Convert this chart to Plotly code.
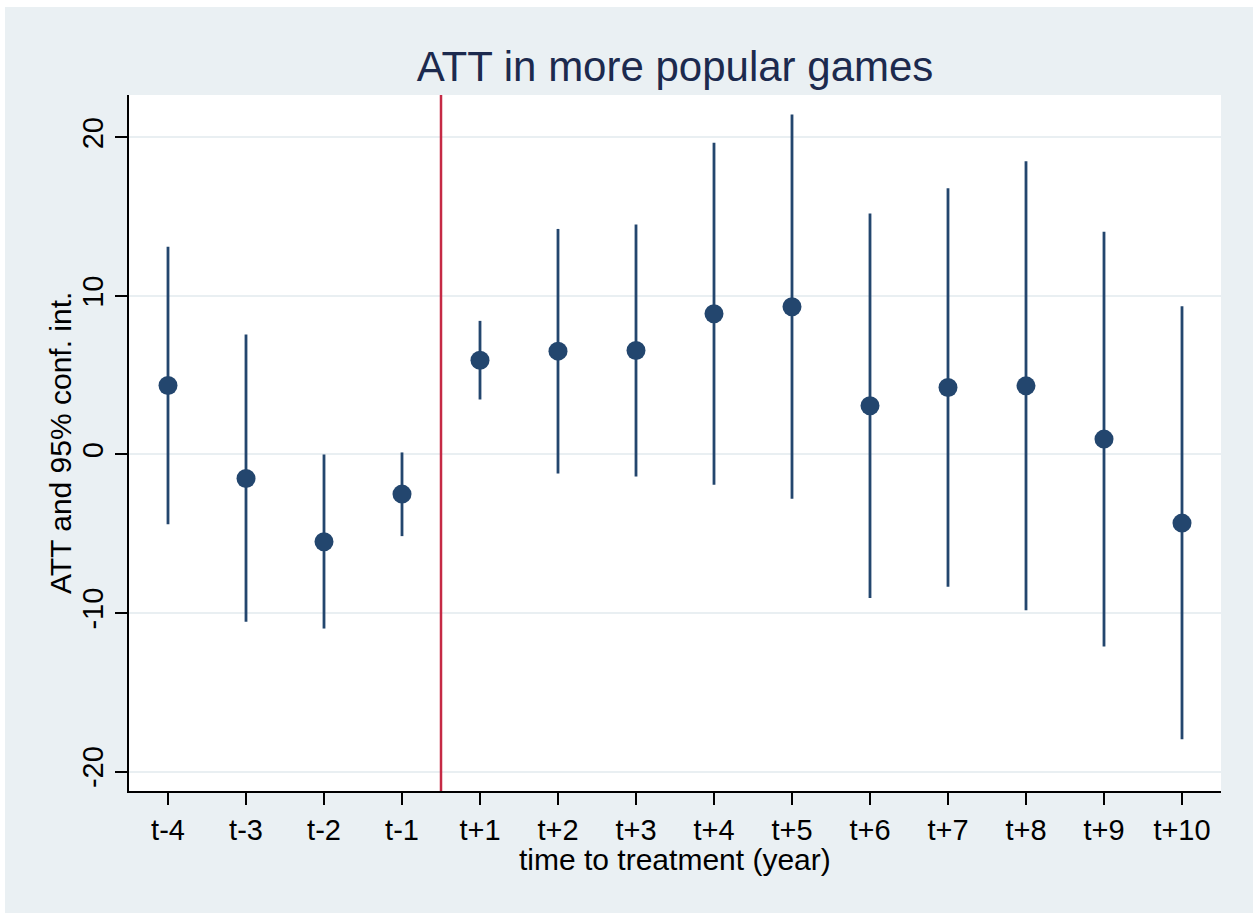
import plotly.graph_objects as go

# Event-study estimates: ATT by year relative to treatment, with 95% CI
periods = ["t-4", "t-3", "t-2", "t-1", "t+1", "t+2", "t+3",
           "t+4", "t+5", "t+6", "t+7", "t+8", "t+9", "t+10"]
att = [4.35, -1.51, -5.51, -2.50, 5.95, 6.52, 6.56,
       8.88, 9.32, 3.07, 4.23, 4.33, 0.97, -4.33]
ci_low = [-4.40, -10.56, -10.98, -5.15, 3.47, -1.20, -1.39,
          -1.91, -2.80, -9.05, -8.35, -9.82, -12.11, -17.97]
ci_high = [13.10, 7.57, 0.00, 0.13, 8.43, 14.23, 14.51,
           19.67, 21.45, 15.20, 16.80, 18.50, 14.05, 9.36]
y_ticks = [-20, -10, 0, 10, 20]
treatment_break = 3.5  # between t-1 and t+1

W, H = 1253, 913
L, R, T, B = 129, 32, 95, 122
pw, ph = W - L - R, H - T - B

NAVY = "#23466e"
BG = "#eaf0f3"
GRID = "#e9eff2"
FONT = "Liberation Sans, Arial, Helvetica, sans-serif"

fig = go.Figure()
fig.add_trace(go.Scatter(
    x=periods,
    y=att,
    mode="markers",
    marker=dict(size=19, color=NAVY),
    error_y=dict(
        type="data",
        symmetric=False,
        array=[h - a for h, a in zip(ci_high, att)],
        arrayminus=[a - l for a, l in zip(att, ci_low)],
        color=NAVY,
        thickness=2.8,
        width=0,
    ),
    showlegend=False,
))

# treatment onset marker
fig.add_shape(type="line", xref="x", yref="paper",
              x0=treatment_break, x1=treatment_break, y0=0, y1=1,
              line=dict(color="#c52a45", width=2.5), layer="above")

# thin white frame along the top and left edges of the page
fig.add_shape(type="rect", xref="paper", yref="paper",
              x0=-L / pw, x1=-L / pw + 5 / pw,
              y0=-B / ph, y1=(H - B) / ph + 0.02,
              fillcolor="white", line_width=0, layer="above")
fig.add_shape(type="rect", xref="paper", yref="paper",
              x0=-L / pw, x1=(W - L) / pw,
              y0=(H - B - 7) / ph, y1=(H - B) / ph + 0.02,
              fillcolor="white", line_width=0, layer="above")

fig.add_annotation(text="ATT and 95% conf. int.", textangle=-90,
                   xref="paper", yref="paper",
                   x=(60 - L) / pw, y=0.5, xanchor="center", yanchor="middle",
                   showarrow=False, font=dict(family=FONT, size=30, color="black"))
fig.add_annotation(text="time to treatment (year)",
                   xref="paper", yref="paper",
                   x=0.5, y=-(860 - (T + ph)) / ph, xanchor="center", yanchor="middle",
                   showarrow=False, font=dict(family=FONT, size=30, color="black"))

fig.update_layout(
    width=W, height=H,
    margin=dict(l=L, r=R, t=T, b=B, autoexpand=False),
    paper_bgcolor=BG,
    plot_bgcolor="white",
    title=dict(text="ATT in more popular games",
               x=0.5, xref="paper", xanchor="center",
               y=1 - 66 / H, yref="container", yanchor="middle",
               font=dict(family=FONT, size=42, color="#1c2a4e")),
    xaxis=dict(
        range=[-0.5, 13.5],
        showgrid=False, zeroline=False,
        showline=True, linecolor="black", linewidth=2,
        ticks="outside", ticklen=12, tickwidth=1.7, tickcolor="black",
        tickfont=dict(family=FONT, size=29, color="black"),
    ),
    yaxis=dict(
        range=[-21.23, 22.68],
        tickvals=y_ticks,
        ticktext=[str(v) for v in y_ticks],
        tickangle=-90,
        showgrid=True, gridcolor=GRID, gridwidth=2,
        zeroline=False,
        showline=True, linecolor="black", linewidth=2,
        ticks="outside", ticklen=12, tickwidth=1.7, tickcolor="black",
        tickfont=dict(family=FONT, size=29, color="black"),
    ),
)

fig.write_html("out.html")
